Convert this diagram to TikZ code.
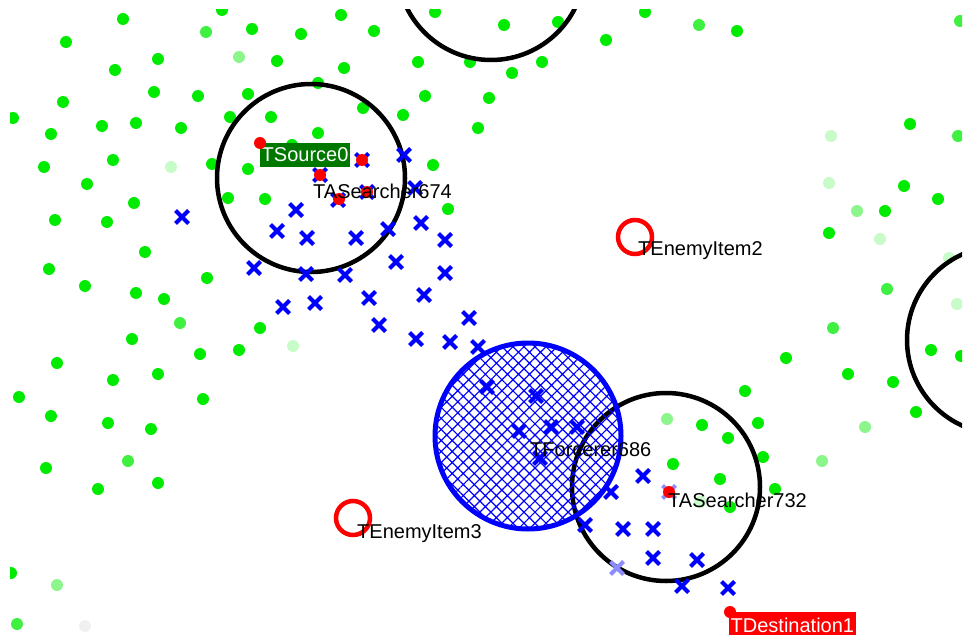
\documentclass[tikz,border=0pt]{standalone}
\usepackage{fontspec}
\setmainfont{Liberation Sans}
\usetikzlibrary{patterns.meta}
\definecolor{dotgreen}{RGB}{0,235,0}
\definecolor{srcgreen}{RGB}{0,120,0}
\begin{document}
\begin{tikzpicture}[x=1pt,y=-1pt,
  gA/.style={fill=dotgreen},
  gB/.style={fill=dotgreen!75!white},
  gC/.style={fill=dotgreen!45!white},
  gD/.style={fill=dotgreen!22!white},
  zone/.style={draw=black,line width=4.5pt},
  forcer/.style={draw=blue,line width=5pt,pattern={Hatch[angle=45,distance=7.8pt,line width=1.2pt]},pattern color=blue},
  enemy/.style={draw=red,line width=4.5pt},
  xmark/.style={draw=blue,line width=4pt},
  xlight/.style={draw=blue!45!white,line width=4pt},
  agent/.style={fill=red},
  lbl/.style={font=\fontsize{20}{24}\selectfont,inner sep=0pt,anchor=base west},
  tagbox/.style={lbl,text=white,inner xsep=1.5pt,inner ysep=0pt,text height=19pt,text depth=5pt}]
\useasboundingbox (0,0) rectangle (971,639);
\begin{scope}
\clip (10,10) rectangle (962,639);

% terrain dots
\foreach \x/\y in {123/19,222/10,341/15,435/12,66/42,252/29,301/34,374/31,158/59,115/70,277/61,344/68,418/62,470/62,
  63/102,154/92,198/96,248/94,318/83,363/108,425/96,489/98,13/118,51/134,102/126,136/123,181/128,230/117,271/117,
  403/115,478/128,318/133,292/145,44/167,113/160,212/164,248/169,433/165,87/184,134/203,228/198,265/199,448/209,
  55/220,107/222,145/252,49/269,85/286,136/293,164/299,207/278,260/328,
  645/12,504/25,558/22,737/31,606/40,542/62,512/73,910/124,904/186,938/199,885/211,829/233,786/358,931/350,961/356,
  848/374,893/382,916/412,775/489,745/391,702/425,758/423,728/438,763/457,673/464,720/479,730/507,
  132/339,57/363,200/354,239/350,113/380,158/374,19/397,51/416,108/423,151/429,203/399,46/468,98/489,158/483,11/573}
  \fill[gA] (\x,\y) circle (6pt);
\foreach \x/\y in {206/32,699/25,958/136,887/289,833/328,180/323,128/461,17/624,960/21}
  \fill[gB] (\x,\y) circle (6pt);
\foreach \x/\y in {857/211,865/427,822/461,667/419,57/585,239/57}
  \fill[gC] (\x,\y) circle (6pt);
\foreach \x/\y in {171/167,831/136,829/183,880/239,949/258,957/304,293/346,700/502}
  \fill[gD] (\x,\y) circle (6pt);
\fill[black!6] (85,626) circle (6pt);

% search zones
\draw[zone] (311,178) circle (94pt);
\draw[zone] (491,-34) circle (94pt);
\draw[zone] (1001,340) circle (94pt);
\draw[zone] (666,487) circle (94pt);

% forcerer area
\draw[forcer] (528,436) circle (93pt);

% enemy items
\draw[enemy] (635,237) circle (17pt);
\draw[enemy] (353,518) circle (17pt);

% searcher trail
\foreach \x/\y in {182/217,296/210,277/231,307/238,356/238,388/229,404/155,415/188,421/223,445/240,254/268,306/274,
  345/275,396/262,445/273,369/298,424/295,283/307,315/303,469/318,379/325,416/339,450/342,478/347,487/387,536/396,
  519/431,551/427,577/427,540/458,643/476,611/492,585/525,623/529,653/529,653/558,697/560,682/586,728/588,
  362/160,320/175,338/200,367/192}
  \draw[xmark] (\x-6.5,\y-6.5) -- (\x+6.5,\y+6.5) (\x-6.5,\y+6.5) -- (\x+6.5,\y-6.5);
\foreach \x/\y in {617/568,669/492}
  \draw[xlight] (\x-6.5,\y-6.5) -- (\x+6.5,\y+6.5) (\x-6.5,\y+6.5) -- (\x+6.5,\y-6.5);

% tagged endpoints
\node[tagbox,fill=srcgreen] (src) at (260,162) {TSource0};
\node[tagbox,fill=red,text height=20pt,text depth=3pt] (dst) at (729,632) {TDestination1};

% agents
\foreach \x/\y in {260/143,362/160,320/175,339/199,367/192,669/492,730/612}
  \fill[agent] (\x,\y) circle (6pt);

% labels
\node[lbl] (s674) at (313,199) {TASearcher674};
\node[lbl] (e2) at (638,255) {TEnemyItem2};
\node[lbl] (e3) at (357,538) {TEnemyItem3};
\node[lbl] (f686) at (530,456) {TForcerer686};
\node[lbl] (s732) at (668,507) {TASearcher732};
\end{scope}
\end{tikzpicture}
\end{document}
